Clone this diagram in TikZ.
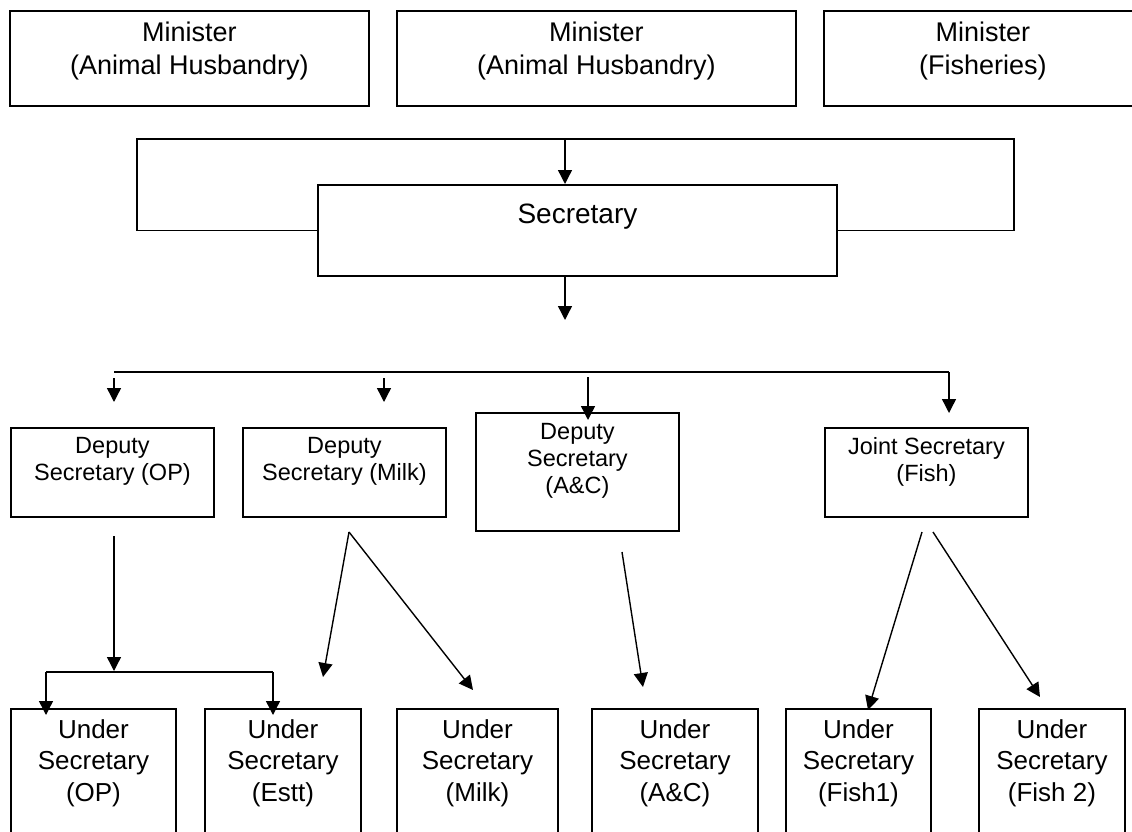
\documentclass[tikz,border=0pt]{standalone}
\usepackage{fontspec}
\setmainfont{Liberation Sans}
\usetikzlibrary{arrows.meta}

\tikzset{
  box/.style={draw, line width=1.9pt, anchor=north west, inner sep=0pt},
  lbl/.style={anchor=north, align=center, inner sep=0pt},
  big/.style={font=\fontsize{27}{33}\selectfont},
  mid/.style={font=\fontsize{23.5}{27}\selectfont},
  usr/.style={font=\fontsize{26}{31.5}\selectfont},
  ln/.style={line width=1.4pt},
  arr/.style={ln, -{Triangle[length=14pt,width=14pt]}},
}

\begin{document}
\begin{tikzpicture}[x=1pt,y=-1pt]
\clip (0,0) rectangle (1132,832);

% ministers
\node[box, minimum width=359pt, minimum height=95pt] (min1) at (9,10) {};
\node[box, minimum width=399pt, minimum height=95pt] (min2) at (396,10) {};
\node[box, minimum width=318pt, minimum height=95pt] (min3) at (823,10) {};
\node[lbl, big] (min1t) at ([yshift=-12pt]min1.north) {Minister\\(Animal Husbandry)};
\node[lbl, big] (min2t) at ([yshift=-12pt]min2.north) {Minister\\(Animal Husbandry)};
\node[lbl, big] (min3t) at ([yshift=-12pt]min3.north) {Minister\\(Fisheries)};

% secretary
\node[box, minimum width=519pt, minimum height=91pt] (sec) at (317,184) {};
\node[lbl, font=\fontsize{28}{34}\selectfont] (sect) at ([yshift=-20pt]sec.north) {Secretary};

% deputies
\node[box, minimum width=203pt, minimum height=89pt] (dsop) at (10,427) {};
\node[box, minimum width=203pt, minimum height=89pt] (dsmilk) at (242,427) {};
\node[box, minimum width=203pt, minimum height=118pt] (dsac) at (475,412) {};
\node[box, minimum width=203pt, minimum height=89pt] (jsfish) at (824,427) {};
\node[lbl, mid] (dsopt) at ([yshift=-10pt]dsop.north) {Deputy\\Secretary (OP)};
\node[lbl, mid] (dsmilkt) at ([yshift=-10pt]dsmilk.north) {Deputy\\Secretary (Milk)};
\node[lbl, mid] (dsact) at ([yshift=-11pt]dsac.north) {Deputy\\Secretary\\(A\&C)};
\node[lbl, mid] (jsfisht) at ([yshift=-10pt]jsfish.north) {Joint Secretary\\(Fish)};

% under secretaries
\foreach \name/\x/\w/\txt in {usop/10/165/(OP), usestt/204/156/(Estt), usmilk/396/161/(Milk),
    usac/591/166/(A\&C), usfa/785/145/(Fish1), usfb/978/146/(Fish 2)} {
  \node[box, minimum width=\w pt, minimum height=140pt] (\name) at (\x,708) {};
  \node[lbl, usr] (\name t) at ([yshift=-11pt]\name.north) {Under\\Secretary\\\txt};
}

% ministers to secretary
\coordinate (tl) at (137,139);
\coordinate (tr) at (1014,139);
\coordinate (secin) at (565,139);
\coordinate (secout) at (565,320);
\draw[ln] (sec.west) -| (tl) -- (tr) |- (sec.east);
\draw[arr] (secin) -- (secin |- sec.north);
\draw[arr] (secout |- sec.south) -- (secout);

% secretary to deputies
\coordinate (busl) at (114,372);
\coordinate (busr) at (949,372);
\draw[ln] (busl) -- (busr);
\foreach \x/\ya/\yb [count=\i] in {114/378/402, 384/378/402, 588/377/420, 949/372/413} {
  \coordinate (dtop\i) at (\x,\ya);
  \coordinate (dtip\i) at (\x,\yb);
  \draw[arr] (dtop\i) -- (dtip\i);
}

% deputies to under secretaries
\coordinate (opo) at (114,536);
\coordinate (opj) at (114,671);
\coordinate (spl) at (46,672);
\coordinate (spr) at (273,672);
\draw[arr] (opo) -- (opj);
\draw[ln] (spl) -- (spr);
\draw[arr] (spl) -- ([yshift=-7pt]spl |- usop.north);
\draw[arr] (spr) -- ([yshift=-7pt]spr |- usestt.north);

\coordinate (mko) at (349,532);
\coordinate (mka) at (323,677);
\coordinate (mkb) at (473,690);
\draw[arr] (mko) -- (mka);
\draw[arr] (mko) -- (mkb);

\coordinate (aco) at (622,552);
\coordinate (aca) at (643,687);
\draw[arr] (aco) -- (aca);

\coordinate (fsoa) at (922,532);
\coordinate (fsob) at (933,532);
\coordinate (fsa) at (868,710);
\coordinate (fsb) at (1040,697);
\draw[arr] (fsoa) -- (fsa);
\draw[arr] (fsob) -- (fsb);
\end{tikzpicture}
\end{document}
